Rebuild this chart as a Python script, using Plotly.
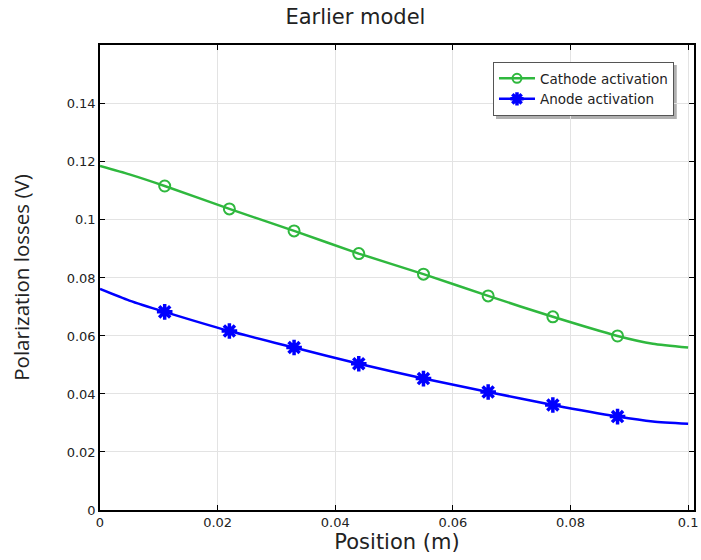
import plotly.graph_objects as go

positions = [0, 0.005, 0.011, 0.022, 0.033, 0.044, 0.055, 0.066, 0.077, 0.088, 0.094, 0.1]
cathode = [0.1186, 0.1157, 0.1117, 0.1038, 0.0962, 0.0884, 0.0813, 0.0738, 0.0666, 0.0600, 0.0573, 0.0560]
anode = [0.0762, 0.0722, 0.0683, 0.0617, 0.0560, 0.0504, 0.0453, 0.0407, 0.0362, 0.0322, 0.0305, 0.0297]
marker_idx = [2, 3, 4, 5, 6, 7, 8, 9]

x_ticks = [0, 0.02, 0.04, 0.06, 0.08, 0.1]
x_ticktext = ["0", "0.02", "0.04", "0.06", "0.08", "0.1"]
y_ticks = [0, 0.02, 0.04, 0.06, 0.08, 0.1, 0.12, 0.14]
y_ticktext = ["0", "0.02", "0.04", "0.06", "0.08", "0.1", "0.12", "0.14"]

GREEN = "#2fb83e"
BLUE = "#0000ff"

series = [
    ("Cathode activation", cathode, GREEN, "circle-open", 11, 2),
    ("Anode activation", anode, BLUE, "asterisk-open", 13, 3.5),
]

fig = go.Figure()
for name, vals, col, sym, msize, mlw in series:
    fig.add_trace(go.Scatter(
        x=positions, y=vals, mode="lines", showlegend=False, hoverinfo="skip",
        line=dict(color=col, width=2.5, shape="spline", smoothing=0.6),
    ))
    fig.add_trace(go.Scatter(
        x=[positions[i] for i in marker_idx], y=[vals[i] for i in marker_idx],
        mode="markers", showlegend=False,
        marker=dict(symbol=sym, size=msize, color=col, line=dict(width=mlw, color=col)),
    ))
    fig.add_trace(go.Scatter(
        x=[None], y=[None], mode="lines+markers", name=name,
        line=dict(color=col, width=2.5),
        marker=dict(symbol=sym, size=msize - 2, color=col, line=dict(width=mlw, color=col)),
    ))

DV = "DejaVu Sans, sans-serif"
OS = "Open Sans, sans-serif"
tick_font = dict(family=DV, size=13, color="#222")
fig.update_layout(
    width=701, height=560,
    margin=dict(l=100, r=7, t=45, b=50, autoexpand=False),
    paper_bgcolor="white", plot_bgcolor="white",
    font=dict(family=DV, color="#222", size=12),
    title=dict(text="Earlier model", x=0.507, xanchor="center", y=0.983, yanchor="top",
               font=dict(family=DV, size=21, color="#222")),
    showlegend=True,
    legend=dict(x=0.6616, y=0.9634, xanchor="left", yanchor="top",
                bgcolor="white", bordercolor="#555", borderwidth=1,
                font=dict(family=DV, size=13.5, color="#222"),
                tracegroupgap=0, itemwidth=36),
    xaxis=dict(range=[0, 0.101], tickvals=x_ticks, ticktext=x_ticktext, automargin=False,
               showgrid=True, gridcolor="#e3e3e3", gridwidth=1,
               showline=True, linecolor="black", linewidth=1.5, mirror="ticks",
               ticks="inside", ticklen=5, tickcolor="black", zeroline=False,
               title=dict(text="Position (m)", font=dict(family=DV, size=21, color="#222"), standoff=2),
               tickfont=tick_font),
    yaxis=dict(range=[0, 0.1603], tickvals=y_ticks, ticktext=y_ticktext, automargin=False,
               showgrid=True, gridcolor="#e3e3e3", gridwidth=1,
               showline=True, linecolor="black", linewidth=1.5, mirror="ticks",
               ticks="inside", ticklen=5, tickcolor="black", zeroline=False,
               title=dict(text="Polarization losses (V)", font=dict(family=OS, size=20.5, color="#222"), standoff=32),
               tickfont=tick_font),
)
# legend shadow
fig.add_shape(type="rect", xref="paper", yref="paper",
              x0=0.6667, x1=0.971, y0=0.841, y1=0.957,
              fillcolor="#b0b0b0", line=dict(width=0), layer="below")

fig.write_html("out.html", config={"displayModeBar": False},
               post_script="document.body.style.margin='0';document.body.style.overflow='hidden';")
